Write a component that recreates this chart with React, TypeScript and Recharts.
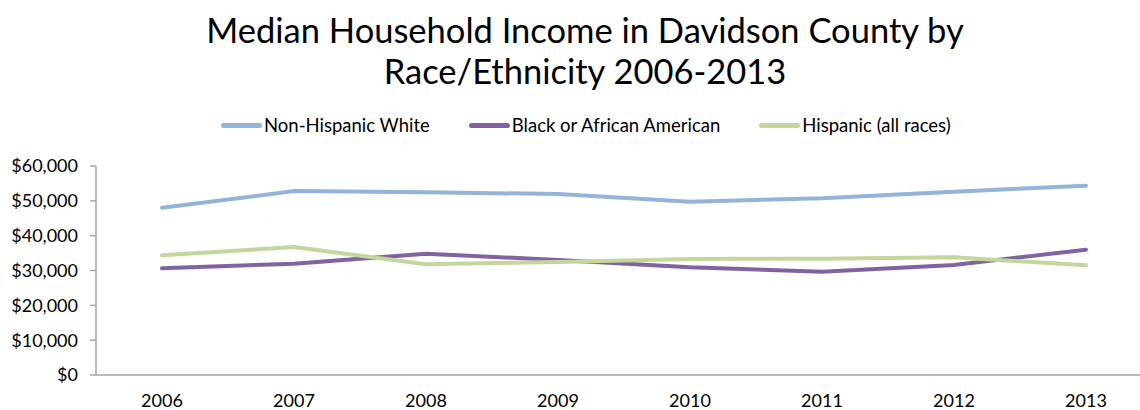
import React from 'react';
import { LineChart, Line, XAxis, YAxis } from 'recharts';

const years = ['2006', '2007', '2008', '2009', '2010', '2011', '2012', '2013'];
const nonHispanicWhite = [48000, 52800, 52450, 51960, 49750, 50720, 52630, 54350];
const blackAfricanAmerican = [30630, 31960, 34830, 33010, 30910, 29660, 31580, 35980];
const hispanic = [34350, 36750, 31780, 32440, 33300, 33400, 33780, 31490];
const yTicks = [0, 10000, 20000, 30000, 40000, 50000, 60000];

const seriesInfo = [
    { key: 'white', name: 'Non-Hispanic White', color: '#95B3D7' },
    { key: 'black', name: 'Black or African American', color: '#8064A2' },
    { key: 'hispanic', name: 'Hispanic (all races)', color: '#C3D69B' },
];

const data = years.map((year, i) => ({
    year,
    white: nonHispanicWhite[i],
    black: blackAfricanAmerican[i],
    hispanic: hispanic[i],
}));

const font = 'Lato, "Open Sans", sans-serif';

const formatMoney = (v: number) => '$' + v.toLocaleString('en-US');

export default function App() {
    return (
        <div
            style={{
                position: 'fixed',
                left: 0,
                top: 0,
                width: 1140,
                height: 410,
                overflow: 'hidden',
                background: '#FFFFFF',
                fontFamily: font,
            }}
        >
            <div
                style={{
                    position: 'absolute',
                    top: 9,
                    left: 0,
                    width: 1170,
                    textAlign: 'center',
                    fontSize: 34.5,
                    lineHeight: '41px',
                    color: '#000000',
                }}
            >
                Median Household Income in Davidson County by
                <br />
                Race/Ethnicity 2006-2013
            </div>
            <div
                style={{
                    position: 'absolute',
                    top: 114,
                    left: 221,
                    display: 'flex',
                    alignItems: 'center',
                    fontSize: 18.5,
                    color: '#000000',
                }}
            >
                {seriesInfo.map((s, i) => (
                    <div
                        key={s.key}
                        style={{ display: 'flex', alignItems: 'center', marginRight: i < 2 ? 39 : 0 }}
                    >
                        <span
                            style={{
                                display: 'inline-block',
                                width: 41,
                                height: 5,
                                borderRadius: 2.5,
                                background: s.color,
                                marginRight: 2,
                            }}
                        />
                        <span>{s.name}</span>
                    </div>
                ))}
            </div>
            <LineChart
                width={1160}
                height={410}
                data={data}
                margin={{ top: 166, right: 8, left: 0, bottom: 5 }}
            >
                <XAxis
                    dataKey="year"
                    stroke="#A6A6A6"
                    strokeWidth={1.5}
                    tickLine={false}
                    tick={{ fill: '#000000', fontSize: 18, fontFamily: font }}
                    tickMargin={13}
                    padding={{ left: 66, right: 66 }}
                    interval={0}
                />
                <YAxis
                    width={96}
                    domain={[0, 60000]}
                    ticks={yTicks}
                    tickFormatter={formatMoney}
                    stroke="#A6A6A6"
                    strokeWidth={1.5}
                    tickSize={6}
                    tickMargin={12}
                    tick={{ fill: '#000000', fontSize: 18, fontFamily: font }}
                    interval={0}
                />
                {seriesInfo.map(s => (
                    <Line
                        key={s.key}
                        type="linear"
                        dataKey={s.key}
                        name={s.name}
                        stroke={s.color}
                        strokeWidth={4}
                        dot={false}
                        strokeLinecap="round"
                        isAnimationActive={false}
                    />
                ))}
            </LineChart>
        </div>
    );
}
